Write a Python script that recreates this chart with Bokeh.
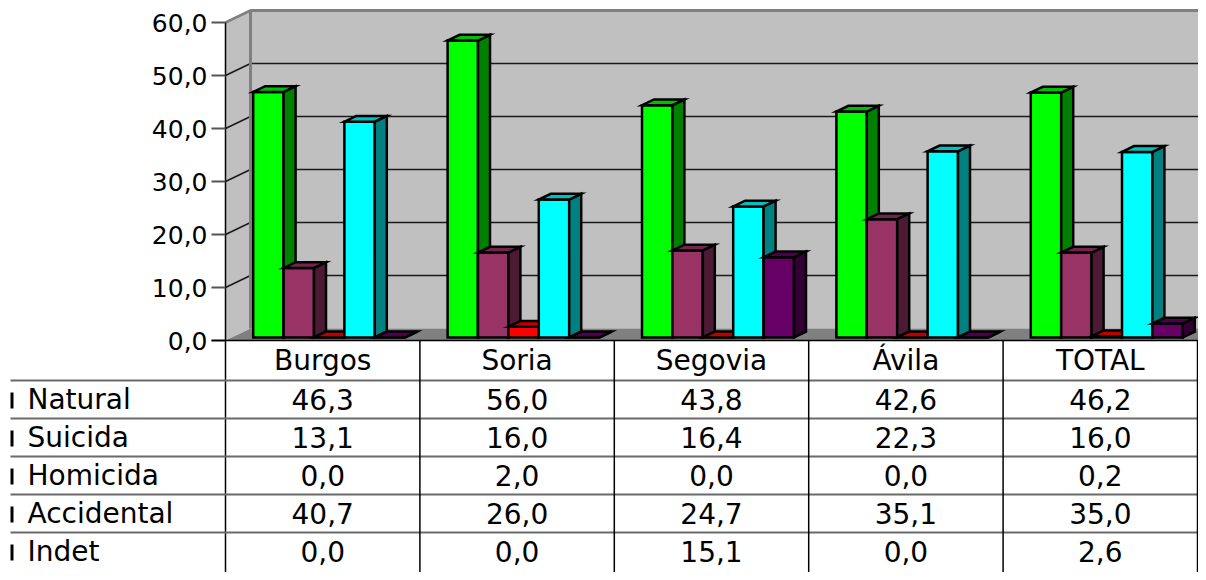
from bokeh.plotting import figure
from bokeh.models import Range1d, ColumnDataSource
from bokeh.core.properties import value
from bokeh.embed import file_html
from bokeh.resources import INLINE

# ---------------- data ----------------
categories = ["Burgos", "Soria", "Segovia", "Ávila", "TOTAL"]
series = ["Natural", "Suicida", "Homicida", "Accidental", "Indet"]
natural = [46.3, 56.0, 43.8, 42.6, 46.2]
suicida = [13.1, 16.0, 16.4, 22.3, 16.0]
homicida = [0.0, 2.0, 0.0, 0.0, 0.2]
accidental = [40.7, 26.0, 24.7, 35.1, 35.0]
indet = [0.0, 0.0, 15.1, 0.0, 2.6]
y_ticks = [0, 10, 20, 30, 40, 50, 60]

values_by_series = [natural, suicida, homicida, accidental, indet]
front_colors = ["#00FF00", "#993366", "#FF0000", "#00FFFF", "#660066"]
side_colors = ["#008000", "#4D1A33", "#800000", "#008080", "#330033"]
top_colors = ["#00C000", "#73264D", "#C00000", "#00C0C0", "#4D004D"]

FONT = "DejaVu Sans"

def fmt(v):
    return f"{v:.1f}".replace(".", ",")

# ---------------- layout (pixel geometry -> data units) ----------------
W, H = 1198, 572
PX = 194.4          # pixels per category
PY = 5.3            # pixels per value unit
ORIGIN_X, ORIGIN_Y = 225, 340   # canvas pixel of (category 0, value 0)

def X(cx):
    return (cx - ORIGIN_X) / PX

def Y(cy):
    return (ORIGIN_Y - cy) / PY

DX = 25 / PX        # depth of floor, x
DY = 12 / PY        # depth of floor, y
F0, F1 = 0.26, 0.74 # bar depth fractions
BW = 30.4 / PX      # bar width
GAP = (1 - len(series) * BW) / 2
NCAT = len(categories)
YMAX = y_ticks[-1]

p = figure(width=W, height=H, output_backend="svg", toolbar_location=None,
           x_axis_type=None, y_axis_type=None, min_border=0,
           x_range=Range1d(X(0), X(W)), y_range=Range1d(Y(H), Y(0)))
p.outline_line_color = None
p.xgrid.visible = False
p.ygrid.visible = False
p.background_fill_color = "white"
p.border_fill_color = "white"

# ---------------- walls & floor ----------------
right = NCAT
# back wall
p.patch([DX, right + 2 * DX, right + 2 * DX, DX], [DY, DY, YMAX + DY, YMAX + DY],
        fill_color="#C0C0C0", line_color=None)
# side wall
p.patch([0, DX, DX, 0], [0, DY, YMAX + DY, YMAX], fill_color="#C0C0C0", line_color=None)
# floor
p.patch([0, DX, right + 2 * DX, right + DX, 0], [0, DY, DY, 0, 0],
        fill_color="#808080", line_color=None)

# gridlines
grid_t = [t for t in y_ticks if 0 < t < YMAX]
p.segment(x0=[DX] * len(grid_t), y0=[t + DY for t in grid_t],
          x1=[right + 2 * DX] * len(grid_t), y1=[t + DY for t in grid_t],
          line_color="#1a1a1a", line_width=1.5)
p.segment(x0=[0] * len(grid_t), y0=grid_t, x1=[DX] * len(grid_t),
          y1=[t + DY for t in grid_t], line_color="#1a1a1a", line_width=1.5)

# wall borders
p.line([DX, DX, right + 2 * DX], [DY, YMAX + DY, YMAX + DY], line_color="#808080", line_width=3)
p.line([0, DX], [YMAX, YMAX + DY], line_color="#808080", line_width=2.5)

# ---------------- bars ----------------
xs, ys, fills = [], [], []
for i in range(NCAT):
    for j, vals in enumerate(values_by_series):
        v = vals[i]
        x0 = i + GAP + j * BW + F0 * DX
        x1 = x0 + BW
        b = F0 * DY
        ddx = (F1 - F0) * DX
        ddy = (F1 - F0) * DY
        t = v + b
        # front
        xs.append([x0, x1, x1, x0]); ys.append([b, b, t, t]); fills.append(front_colors[j])
        # side
        xs.append([x1, x1 + ddx, x1 + ddx, x1]); ys.append([b, b + ddy, t + ddy, t]); fills.append(side_colors[j])
        # top
        xs.append([x0, x1, x1 + ddx, x0 + ddx]); ys.append([t, t, t + ddy, t + ddy]); fills.append(top_colors[j])

p.patches(xs="xs", ys="ys", fill_color="fill", line_color="black", line_width=2.5,
          line_join="miter",
          source=ColumnDataSource(dict(xs=xs, ys=ys, fill=fills)))

# ---------------- value axis ----------------
p.line([0, 0], [Y(H + 20), YMAX], line_color="black", line_width=1.5)
p.segment(x0=[X(211)] * len(y_ticks), y0=y_ticks, x1=[0] * len(y_ticks), y1=y_ticks,
          line_color="#555555", line_width=2)
p.text(x=[X(207)] * len(y_ticks), y=y_ticks, text=[fmt(t) for t in y_ticks],
       text_align="right", text_baseline="middle", text_font=value(FONT),
       text_font_size="25px", text_color="black")
# front floor edge
p.line([X(211), right + DX], [0, 0], line_color="black", line_width=1.5)

# ---------------- data table ----------------
row_h = 38 / PY
header_c = Y(360)
first_row_top = Y(380)
n_rows = len(series)
row_tops = [first_row_top - k * row_h for k in range(n_rows)]
row_centers = [first_row_top - (k + 0.5) * row_h for k in range(n_rows)]

# horizontal separators
p.segment(x0=[X(10)] * len(row_tops), y0=row_tops, x1=[right] * len(row_tops), y1=row_tops,
          line_color="#6a6a6a", line_width=2)
# vertical separators
p.segment(x0=list(range(1, NCAT + 1)), y0=[Y(H + 20)] * NCAT,
          x1=list(range(1, NCAT + 1)), y1=[0] * NCAT, line_color="black", line_width=1.5)

# header
p.text(x=[i + 0.5 for i in range(NCAT)], y=[header_c] * NCAT, text=categories,
       text_align="center", text_baseline="middle", text_font=value(FONT),
       text_font_size="28px", text_color="black")

# row labels + legend keys
p.rect(x=[X(11.5)] * n_rows, y=[c - 1 / PY for c in row_centers],
       width=3 / PX, height=16 / PY, fill_color="black", line_color=None)
p.text(x=[X(27)] * n_rows, y=row_centers, text=series, text_align="left",
       text_baseline="middle", text_font=value(FONT), text_font_size="28px",
       text_color="black")

# cell values
cx, cy, ct = [], [], []
for k, vals in enumerate(values_by_series):
    for i, v in enumerate(vals):
        cx.append(i + 0.5); cy.append(row_centers[k]); ct.append(fmt(v))
p.text(x=cx, y=cy, text=ct, text_align="center", text_baseline="middle",
       text_font=value(FONT), text_font_size="28px", text_color="black")

open("out.html", "w").write(file_html(p, INLINE))
